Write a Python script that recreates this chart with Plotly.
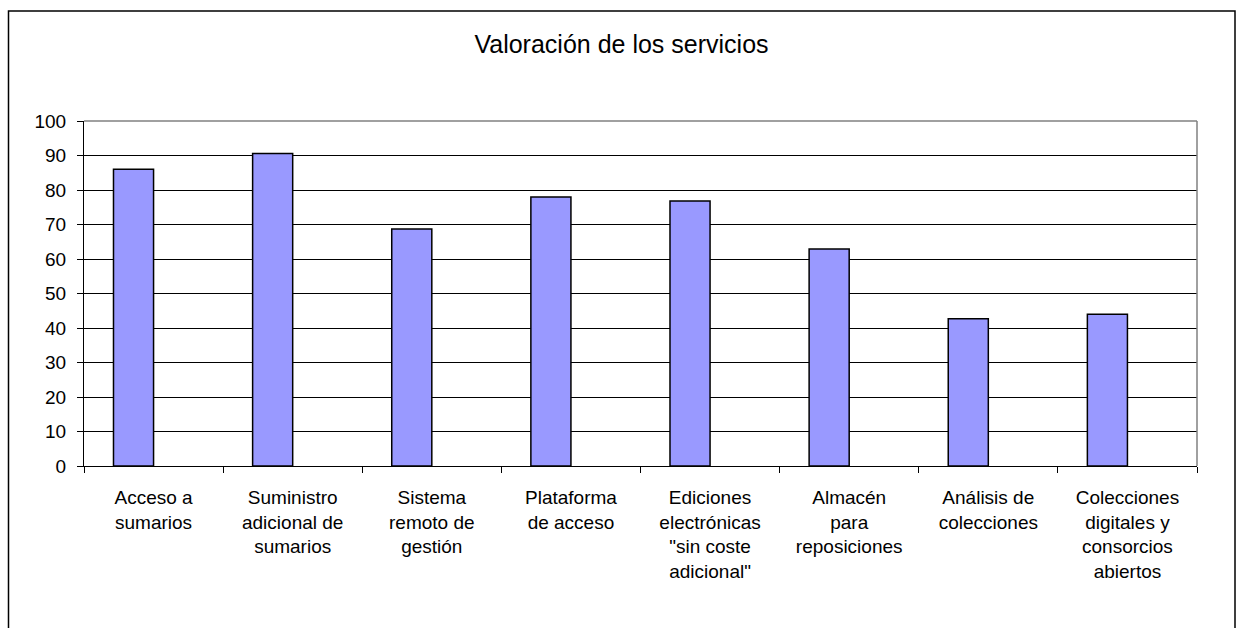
import plotly.graph_objects as go

categories = [
    "Acceso a<br>sumarios",
    "Suministro<br>adicional de<br>sumarios",
    "Sistema<br>remoto de<br>gestión",
    "Plataforma<br>de acceso",
    "Ediciones<br>electrónicas<br>\"sin coste<br>adicional\"",
    "Almacén<br>para<br>reposiciones",
    "Análisis de<br>colecciones",
    "Colecciones<br>digitales y<br>consorcios<br>abiertos",
]
values = [86, 90.6, 68.7, 78, 76.8, 62.9, 42.7, 44]
y_ticks = [0, 10, 20, 30, 40, 50, 60, 70, 80, 90, 100]
title_text = "Valoración de los servicios"

W, H = 1241, 628
L, R, T, B = 84, 44, 121, 162
pw, ph = W - L - R, H - T - B

def px_x(p):
    return (p - L) / pw

def px_y(p):
    return (H - B - p) / ph

FONT = "Liberation Sans, Arial, sans-serif"
BAR_W = 0.288

fig = go.Figure()
fig.add_trace(go.Bar(
    x=categories, y=values,
    width=BAR_W, offset=-BAR_W,
    marker=dict(color="#9999FF", line=dict(color="#000000", width=1.5)),
    hoverinfo="x+y",
))

fig.update_layout(
    width=W, height=H,
    margin=dict(l=L, r=R, t=T, b=B, pad=0),
    paper_bgcolor="white", plot_bgcolor="white",
    showlegend=False,
    font=dict(family=FONT, color="#000000", size=19),
    title=dict(text=title_text, x=621.5 / W, xref="container", xanchor="center",
               y=1 - 44 / H, yref="container", yanchor="middle",
               font=dict(family=FONT, size=25, color="#000000")),
    xaxis=dict(
        type="category", showgrid=False, showline=True, linecolor="#000000", linewidth=1,
        ticks="outside", tickson="boundaries", ticklen=6, tickcolor="#000000", tickwidth=1,
        tickfont=dict(family=FONT, size=19, color="#000000"),
        ticklabelstandoff=14, tickangle=0, fixedrange=True,
    ),
    yaxis=dict(
        range=[0, 100], tickvals=y_ticks, showgrid=True, gridcolor="#000000", gridwidth=1,
        showline=True, linecolor="#000000", linewidth=1, zeroline=False,
        ticks="outside", ticklen=6, tickcolor="#000000", tickwidth=1,
        tickfont=dict(family=FONT, size=19, color="#000000"),
        ticklabelstandoff=7, fixedrange=True,
    ),
    shapes=[
        dict(type="line", xref="paper", yref="paper", x0=0, x1=1, y0=1, y1=1,
             line=dict(color="#808080", width=1.5)),
        dict(type="line", xref="paper", yref="paper", x0=1, x1=1, y0=0, y1=1,
             line=dict(color="#808080", width=1.5)),
        dict(type="rect", xref="paper", yref="paper",
             x0=px_x(8.5), x1=px_x(1235), y0=px_y(660), y1=px_y(11),
             line=dict(color="#000000", width=1.5), fillcolor="rgba(0,0,0,0)", layer="above"),
    ],
)

fig.write_html("out.html", config={"displayModeBar": False},
               post_script="document.body.style.margin='0';")
